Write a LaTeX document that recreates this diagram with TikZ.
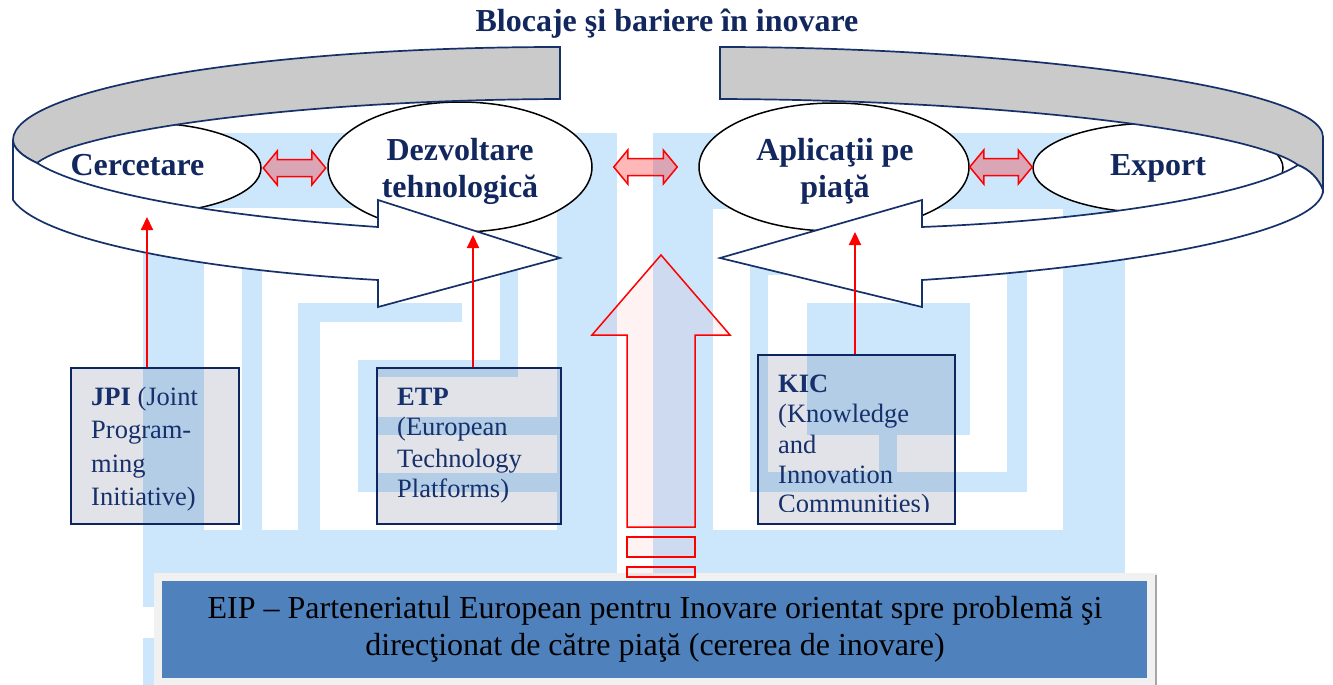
\documentclass[tikz,border=0pt]{standalone}
\usepackage{fontspec}
\setmainfont{Liberation Serif}
\usetikzlibrary{shapes.geometric,arrows.meta,calc}
\definecolor{mazeblue}{HTML}{CCE6FC}
\definecolor{navy}{HTML}{11275E}
\definecolor{boxnavy}{HTML}{15306B}
\definecolor{ringline}{HTML}{16306A}
\definecolor{bandgray}{HTML}{CACACA}
\definecolor{eipblue}{HTML}{4F81BD}
\definecolor{eipframe}{HTML}{F1F1F1}
\definecolor{boxline}{HTML}{0E2660}
\definecolor{boxfill}{HTML}{0B1F4F}
\newcommand\dblarr[3]{\draw[dbl] let \p1=($(#2.east)+(#1,0)$), \p2=($(#3.west)-(#1,0)$) in
  (\x1,\y1) -- (\x1+14pt,\y1+17pt) -- (\x1+14pt,\y1+8.5pt) -- (\x2-14pt,\y1+8.5pt) -- (\x2-14pt,\y1+17pt) -- (\x2,\y1)
  -- (\x2-14pt,\y1-17pt) -- (\x2-14pt,\y1-8.5pt) -- (\x1+14pt,\y1-8.5pt) -- (\x1+14pt,\y1-17pt) -- cycle;}
\begin{document}
\begin{tikzpicture}[x=1pt,y=-1pt,
  maze/.style={fill=mazeblue},
  stage/.style={ellipse, draw=black, line width=1.5pt, fill=white, inner sep=0pt},
  stagetext/.style={font=\fontsize{32}{37}\selectfont\bfseries, text=navy, anchor=base, inner sep=0pt},
  ring/.style={draw=ringline, line width=1.7pt, line join=miter},
  infobox/.style={draw=boxline, line width=1.8pt, fill=boxfill, fill opacity=0.12, inner sep=0pt, anchor=north west},
  boxtext/.style={font=\fontsize{26.5}{33}\selectfont, text=boxnavy, anchor=base west, inner sep=0pt},
  eiptext/.style={font=\fontsize{32}{37}\selectfont, text=black, anchor=base, inner sep=0pt},
  link/.style={draw=red, line width=2pt, -{Triangle[length=13pt,width=12pt]}},
  dbl/.style={draw=red, line width=1.5pt, fill=red, fill opacity=0.28},
  uparrow/.style={draw=red, line width=1.5pt, fill=red, fill opacity=0.05},
  titletext/.style={font=\fontsize{32}{38}\selectfont\bfseries, text=navy, anchor=base, inner sep=0pt}]
\useasboundingbox (0,0) rectangle (1333,685);
\fill[white] (0,0) rectangle (1333,685);
% background maze, left half
\fill[maze] (143,133) rectangle (617,573);
\fill[white] (204,208) rectangle (557,530);
\fill[maze] (143,573) rectangle (154,607);
\fill[maze] (143,638) rectangle (154,685);
\fill[maze] (242,250) rectangle (518,270);
\fill[maze] (242,250) rectangle (262,530);
\fill[maze] (500,250) rectangle (518,377);
\fill[maze] (298,303) rectangle (320,530);
\fill[maze] (298,303) rectangle (462,322);
\fill[maze] (358,360) rectangle (518,377);
\fill[maze] (358,360) rectangle (377,492);
\fill[maze] (358,473) rectangle (557,492);
\fill[maze] (358,417) rectangle (557,435);
% background maze, right half
\fill[maze] (653,133) rectangle (1125,573);
\fill[white] (713,209) rectangle (1063,530);
\fill[maze] (750,255) rectangle (1027,492);
\fill[white] (768,275) rectangle (1007,472);
\fill[maze] (807,303) rectangle (970,435);
\fill[maze] (879,435) rectangle (897,472);
% EIP box
\node[fill=eipframe, minimum width=1003pt, minimum height=112pt, inner sep=0pt, anchor=north west] (eipframe) at (154,573) {};
\draw[draw=gray!70, line width=2pt] (eipframe.north east) ++(-1,2) coordinate (sh1) (eipframe.south east) ++(-1,0) coordinate (sh2);
\draw[draw=gray!70, line width=2pt] (sh1) -- (sh2);
\node[fill=eipblue, minimum width=985pt, minimum height=97pt, inner sep=0pt, anchor=north west] (eip) at (162,581) {};
\node[eiptext] (eip1) at (655,618) {EIP – Parteneriatul European pentru Inovare orientat spre problemă şi};
\node[eiptext] (eip2) at (655,655) {direcţionat de către piaţă (cererea de inovare)};
% info boxes
\node[infobox, minimum width=168pt, minimum height=156pt] (jpi) at (70,367) {};
\node[infobox, minimum width=184pt, minimum height=156pt] (etp) at (376,367) {};
\node[infobox, minimum width=197pt, minimum height=169pt] (kic) at (757,354) {};
\node[boxtext] (jpi1) at (91,405) {\textbf{JPI} (Joint};
\node[boxtext] (jpi2) at (91,438) {Program-};
\node[boxtext] (jpi3) at (91,472) {ming};
\node[boxtext] (jpi4) at (91,505) {Initiative)};
\node[boxtext] (etp1) at (397,405) {\textbf{ETP}};
\node[boxtext] (etp2) at (397,435) {(European};
\node[boxtext] (etp3) at (397,467) {Technology};
\node[boxtext] (etp4) at (397,497) {Platforms)};
\begin{scope}
\clip (757,354) rectangle (954,511);
\node[boxtext] (kic1) at (778,392) {\textbf{KIC}};
\node[boxtext] (kic2) at (778,422) {(Knowledge};
\node[boxtext] (kic3) at (778,453) {and};
\node[boxtext] (kic4) at (778,483) {Innovation};
\node[boxtext] (kic5) at (778,512) {Communities)};
\end{scope}
% big up arrow
\draw[uparrow] (627,527) -- (627,335) -- (592,335) -- (661,255) -- (730,335) -- (695,335) -- (695,527) -- cycle;
\draw[uparrow] (627,537) rectangle (695,557);
\draw[uparrow] (627,567) rectangle (695,577);
% stages
\node[stage, minimum width=232pt, minimum height=90pt] (cerc) at (145,168) {};
\node[stage, minimum width=264pt, minimum height=130pt] (dezv) at (460,167) {};
\node[stage, minimum width=270pt, minimum height=128pt] (apl) at (834,167) {};
\node[stage, minimum width=250pt, minimum height=90pt] (expo) at (1158,168) {};
% ring, left
\filldraw[ring, fill=bandgray] (560,47) .. controls (250,47) and (13,90) .. (13,140) .. controls (13,148) and (22,156) .. (37,163) .. controls (80,130) and (300,100) .. (560,99) -- cycle;
\filldraw[ring, fill=white] (13,140) -- (13,200) .. controls (40,240) and (200,270) .. (378,280) -- (378,307) -- (560,258) -- (378,200) -- (378,227) .. controls (200,215) and (80,190) .. (37,163) .. controls (22,156) and (13,148) .. (13,140) -- cycle;
% ring, right
\filldraw[ring, fill=bandgray] (720,47) .. controls (1000,47) and (1323,85) .. (1323,137) -- (1323,190) .. controls (1318,178) and (1310,170) .. (1298,165) .. controls (1250,130) and (1000,100) .. (720,99) -- cycle;
\filldraw[ring, fill=white] (1323,190) .. controls (1323,230) and (1150,265) .. (922,280) -- (922,307) -- (720,258) -- (922,200) -- (922,227) .. controls (1100,220) and (1250,195) .. (1298,165) .. controls (1310,170) and (1318,178) .. (1323,190) -- cycle;
% stage texts
\node[stagetext] (cerct) at (137.5,175) {Cercetare};
\node[stagetext] (dezvt1) at (460,160) {Dezvoltare};
\node[stagetext] (dezvt2) at (460,197) {tehnologică};
\node[stagetext] (aplt1) at (835,160) {Aplicaţii pe};
\node[stagetext] (aplt2) at (835,197) {piaţă};
\node[stagetext] (expot) at (1158,175) {Export};
% connectors
\coordinate (tipA) at (147,217);
\coordinate (tipB) at (473,235);
\coordinate (tipC) at (855,232);
\draw[link] (jpi.north -| tipA) -- (tipA);
\draw[link] (etp.north -| tipB) -- (tipB);
\draw[link] (kic.north -| tipC) -- (tipC);
\dblarr{1.5}{cerc}{dezv}
\dblarr{21}{dezv}{apl}
\dblarr{0}{apl}{expo}
% title
\node[titletext] (title) at (667,32) {Blocaje şi bariere în inovare};
\end{tikzpicture}
\end{document}
